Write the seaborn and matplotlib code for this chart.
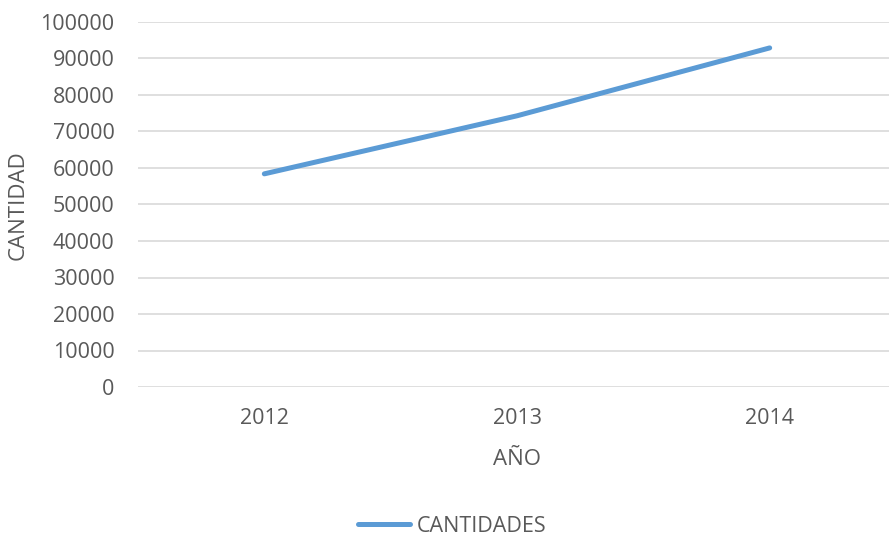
import matplotlib
matplotlib.use("Agg")
import matplotlib.pyplot as plt
import seaborn as sns
import pandas as pd
from matplotlib.lines import Line2D

years = [2012, 2013, 2014]
cantidades = [58400, 74300, 92900]
y_ticks = [0, 10000, 20000, 30000, 40000, 50000, 60000, 70000, 80000, 90000, 100000]
x_label = "AÑO"
y_label = "CANTIDAD"
series_name = "CANTIDADES"

sns.set_theme(style="white")
plt.rcParams['font.family'] = ['Open Sans', 'DejaVu Sans']
gray = "#595959"

df = pd.DataFrame({"year": years, series_name: cantidades})

W, H = 889, 537
fig = plt.figure(figsize=(W / 100, H / 100), dpi=100)
left, right, top, bottom = 138, 896, 22, 387
ax = fig.add_axes([left / W, 1 - bottom / H, (right - left) / W, (bottom - top) / H])

sns.lineplot(data=df, x="year", y=series_name, ax=ax, color="#5B9BD5",
             linewidth=3.6, solid_capstyle="round", legend=False)

ax.set_xlim(2011.5, 2014.5)
ax.set_ylim(0, 100000)
ax.set_yticks(y_ticks)
ax.set_yticklabels([str(v) for v in y_ticks])
ax.set_xticks(years)
ax.set_xticklabels([str(y) for y in years])
ax.yaxis.grid(True, color="#D9D9D9", linewidth=1.2)
ax.xaxis.grid(False)
for s in ax.spines.values():
    s.set_visible(False)
ax.tick_params(axis="both", length=0, labelsize=15.5, colors=gray)
ax.tick_params(axis="y", pad=17)
ax.tick_params(axis="x", pad=15)

ax.set_xlabel(x_label, fontsize=16, color=gray)
ax.set_ylabel(y_label, fontsize=16, color=gray)
ax.xaxis.set_label_coords((517 - left) / (right - left), -(449 - bottom) / (bottom - top))
ax.yaxis.set_label_coords(-(left - 29) / (right - left), (bottom - 205) / (bottom - top))

h = [Line2D([0], [0], color="#5B9BD5", linewidth=3.6, solid_capstyle="round")]
fig.legend(h, [series_name], loc="center", bbox_to_anchor=(452 / W, 1 - 526 / H),
           frameon=False, fontsize=15.5, labelcolor=gray, handlelength=2.4,
           handletextpad=0.3)

fig.savefig("out.png", dpi=100)
